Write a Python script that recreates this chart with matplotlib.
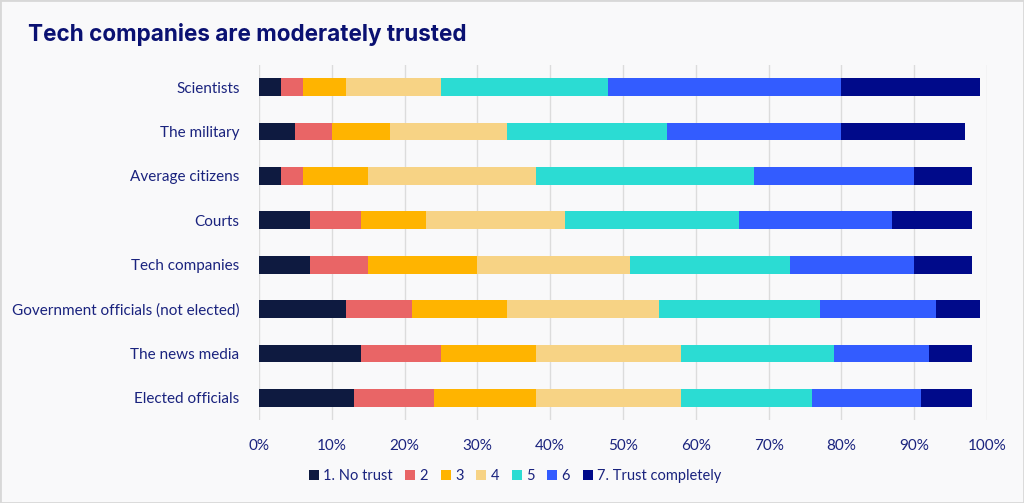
import matplotlib
matplotlib.use("Agg")
import matplotlib.pyplot as plt
from matplotlib.patches import Rectangle
import numpy as np

categories = ["Scientists", "The military", "Average citizens", "Courts",
              "Tech companies", "Government officials (not elected)",
              "The news media", "Elected officials"]
series_names = ["1. No trust", "2", "3", "4", "5", "6", "7. Trust completely"]
values = {
    "1. No trust":         [3, 5, 3, 7, 7, 12, 14, 13],
    "2":                   [3, 5, 3, 7, 8, 9, 11, 11],
    "3":                   [6, 8, 9, 9, 15, 13, 13, 14],
    "4":                   [13, 16, 23, 19, 21, 21, 20, 20],
    "5":                   [23, 22, 30, 24, 22, 22, 21, 18],
    "6":                   [32, 24, 22, 21, 17, 16, 13, 15],
    "7. Trust completely": [19, 17, 8, 11, 8, 6, 6, 7],
}
colors = ["#0e1a40", "#e96566", "#ffb400", "#f7d385", "#2bdcd3", "#335cff", "#000a8a"]
xticks = [0, 10, 20, 30, 40, 50, 60, 70, 80, 90, 100]
xticklabels = [f"{t}%" for t in xticks]
title = "Tech companies are moderately trusted"

plt.rcParams['font.family'] = ['Lato', 'DejaVu Sans']
text_color = "#1a237e"

fig = plt.figure(figsize=(10.24, 5.03), dpi=100, facecolor="#f9f9fa")
fig.patches.append(Rectangle((0, 0), 1, 1, transform=fig.transFigure, fill=False,
                             edgecolor="#d8d8d8", linewidth=2))
ax = fig.add_axes([259/1024, 1-420/503, 728/1024, 355/503])
ax.set_facecolor("#f9f9fa")

y = np.arange(len(categories))
left = np.zeros(len(categories))
for name, c in zip(series_names, colors):
    v = np.array(values[name], dtype=float)
    ax.barh(y, v, left=left, height=0.4, color=c, label=name, zorder=3)
    left += v

ax.set_xlim(0, 100)
ax.set_ylim(len(categories) - 0.5, -0.5)
ax.set_yticks(y)
ax.set_yticklabels(categories, fontsize=11, color=text_color)
ax.set_xticks(xticks)
ax.set_xticklabels(xticklabels, fontsize=11, color=text_color)
ax.tick_params(axis="y", length=0, pad=14)
ax.tick_params(axis="x", length=0, pad=14)
ax.grid(axis="x", color="#dcdcdc", linewidth=1, zorder=0)
for s in ax.spines.values():
    s.set_visible(False)

fig.text(28/1024, 1-35/503, title, fontsize=16.2, fontweight="bold",
         family=['Inter', 'DejaVu Sans'],
         color="#0a1172", va="center", ha="left")

handles, labels = ax.get_legend_handles_labels()
fig.legend(handles, labels, loc="center", bbox_to_anchor=(515/1024, 1-476/503),
           ncol=7, frameon=False, fontsize=10.5, handlelength=0.7, handleheight=0.7,
           handletextpad=0.3, columnspacing=0.85, labelcolor=text_color)

fig.savefig("out.png", dpi=100, facecolor=fig.get_facecolor())
